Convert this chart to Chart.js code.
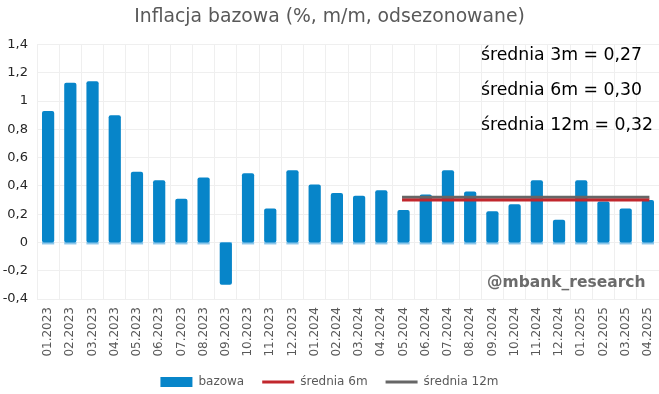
<!DOCTYPE html>
<html>
<head>
<meta charset="utf-8">
<script src="https://cdn.jsdelivr.net/npm/chart.js@4/dist/chart.umd.min.js"></script>
<style>
html,body{margin:0;padding:0;background:#fff;}
#wrap{width:659px;height:394px;position:relative;}
</style>
</head>
<body>
<div id="wrap"><canvas id="c" width="659" height="394"></canvas></div>
<script>
const categories = ["01.2023","02.2023","03.2023","04.2023","05.2023","06.2023","07.2023","08.2023","09.2023","10.2023","11.2023","12.2023","01.2024","02.2024","03.2024","04.2024","05.2024","06.2024","07.2024","08.2024","09.2024","10.2024","11.2024","12.2024","01.2025","02.2025","03.2025","04.2025"];
const bazowa = [0.93,1.13,1.14,0.90,0.50,0.44,0.31,0.46,-0.30,0.49,0.24,0.51,0.41,0.35,0.33,0.37,0.23,0.34,0.51,0.36,0.22,0.27,0.44,0.16,0.44,0.29,0.24,0.30];
const srednia6m = [null,null,null,null,null,null,null,null,null,null,null,null,null,null,null,null,0.30,0.30,0.30,0.30,0.30,0.30,0.30,0.30,0.30,0.30,0.30,0.30];
const srednia12m = [null,null,null,null,null,null,null,null,null,null,null,null,null,null,null,null,0.32,0.32,0.32,0.32,0.32,0.32,0.32,0.32,0.32,0.32,0.32,0.32];
const annotations = ["średnia 3m = 0,27","średnia 6m = 0,30","średnia 12m = 0,32"];
const watermark = "@mbank_research";

const FONT = "'DejaVu Sans', Verdana, sans-serif";

const overlay = {
  id: 'overlay',
  beforeDatasetsDraw(chart) {
    const ctx = chart.ctx;
    const y0 = chart.scales.y.getPixelForValue(0);
    const meta = chart.getDatasetMeta(0);
    ctx.save();
    ctx.fillStyle = '#8cc6ea';
    meta.data.forEach(b => {
      ctx.fillRect(b.x - b.width/2, y0 - 0.5, b.width, 2.5);
    });
    ctx.restore();
  },
  afterDraw(chart) {
    const ctx = chart.ctx;
    ctx.save();
    ctx.fillStyle = '#000';
    ctx.font = "17.3px " + FONT;
    ctx.textBaseline = 'middle';
    ctx.textAlign = 'left';
    const ys = [56, 91, 126];
    annotations.forEach((t, i) => ctx.fillText(t, 481, ys[i]));
    ctx.fillStyle = '#6b6b6b';
    ctx.font = "bold 15.5px " + FONT;
    ctx.fillText(watermark, 487, 283);
    ctx.restore();
  }
};

new Chart(document.getElementById('c'), {
  type: 'bar',
  data: {
    labels: categories,
    datasets: [
      {
        type: 'bar',
        label: 'bazowa',
        data: bazowa,
        backgroundColor: '#0785c9',
        borderWidth: 0,
        borderRadius: 2,
        borderSkipped: false,
        barPercentage: 0.55,
        categoryPercentage: 1.0,
        order: 3
      },
      {
        type: 'line',
        label: 'średnia 6m',
        data: srednia6m,
        borderColor: '#c1272d',
        backgroundColor: '#c1272d',
        borderWidth: 3,
        pointRadius: 0,
        borderCapStyle: 'square',
        order: 1
      },
      {
        type: 'line',
        label: 'średnia 12m',
        data: srednia12m,
        borderColor: '#666666',
        backgroundColor: '#666666',
        borderWidth: 3,
        pointRadius: 0,
        borderCapStyle: 'square',
        order: 2
      }
    ]
  },
  options: {
    responsive: false,
    animation: false,
    devicePixelRatio: 1,
    layout: { padding: { left: 0, right: 0, top: 0, bottom: -4 } },
    plugins: {
      title: {
        display: true,
        text: 'Inflacja bazowa (%, m/m, odsezonowane)',
        color: '#595959',
        font: { family: FONT, size: 18.8, weight: 'normal' },
        padding: { top: 6, bottom: 16 }
      },
      legend: {
        position: 'bottom',
        labels: {
          color: '#595959',
          font: { family: FONT, size: 12 },
          usePointStyle: true,
          pointStyleWidth: 32,
          boxHeight: 10,
          padding: 18,
          generateLabels(chart) {
            return chart.data.datasets.map((ds, i) => ({
              text: ds.label,
              fillStyle: ds.backgroundColor,
              strokeStyle: ds.borderColor || ds.backgroundColor,
              lineWidth: ds.type === 'line' ? 3 : 0,
              pointStyle: ds.type === 'line' ? 'line' : 'rect',
              fontColor: '#595959',
              hidden: false,
              datasetIndex: i
            }));
          }
        }
      },
      tooltip: { enabled: false }
    },
    scales: {
      x: {
        grid: { color: '#efefef', drawTicks: false, offset: true },
        border: { display: false },
        ticks: {
          color: '#595959',
          font: { family: FONT, size: 12 },
          minRotation: 90,
          maxRotation: 90,
          padding: 8,
          autoSkip: false
        },
        afterFit(scale) {
          scale.height = 59;
          scale.paddingRight = 0;
          scale.paddingLeft = 0;
          scale._computeLabelArea = function () { return undefined; };
        }
      },
      y: {
        min: -0.4,
        max: 1.4,
        grid: {
          drawTicks: false,
          color: ctx => (ctx.tick && ctx.tick.value === 0) ? '#d4d4d4' : '#efefef'
        },
        border: { display: false },
        ticks: {
          stepSize: 0.2,
          color: '#262626',
          font: { family: FONT, size: 13 },
          padding: 9,
          callback: v => {
            const r = Math.round(v * 10) / 10;
            return String(r).replace('.', ',');
          }
        },
        afterFit(scale) { scale.width = 37; }
      }
    }
  },
  plugins: [overlay]
});
</script>
</body>
</html>
